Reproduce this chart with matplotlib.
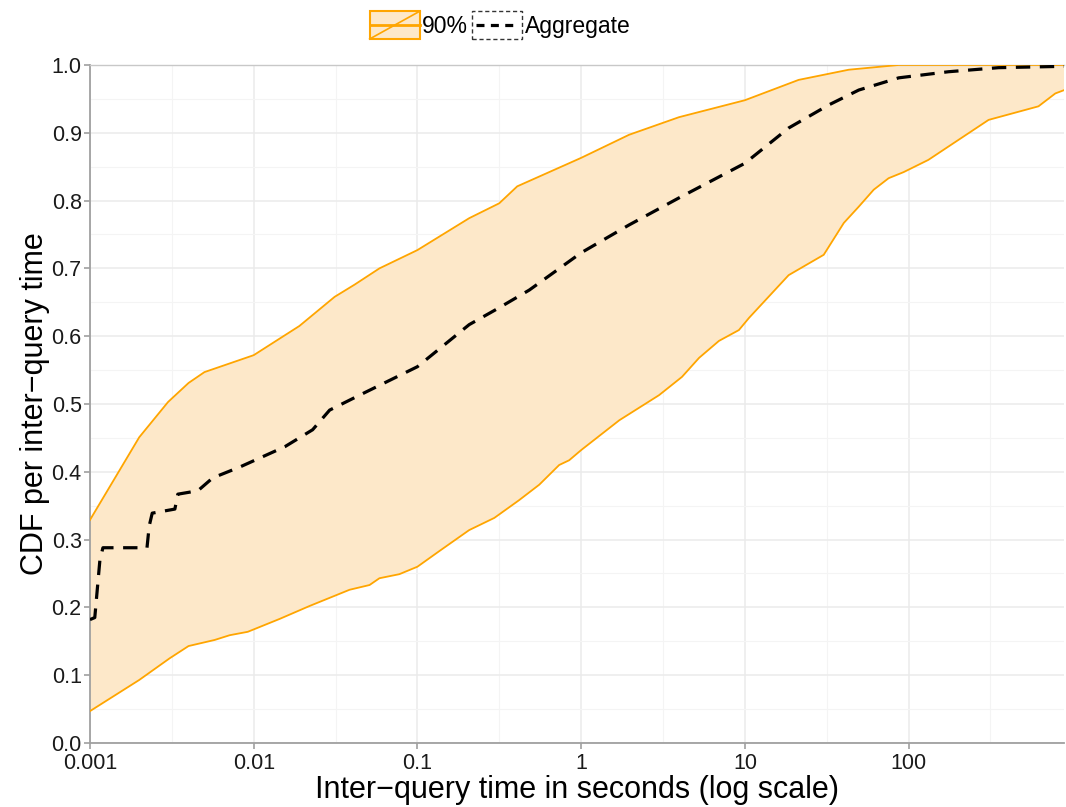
import numpy as np
import matplotlib
matplotlib.use('Agg')
import matplotlib.pyplot as plt
from matplotlib.patches import Rectangle
from matplotlib.lines import Line2D
from matplotlib.legend_handler import HandlerBase
from matplotlib.ticker import FixedLocator, NullFormatter

plt.rcParams['font.family'] = ['Liberation Sans', 'DejaVu Sans']

# Upper edge of the 90% band
upper_x = [0.001, 0.002, 0.003, 0.004, 0.005, 0.01, 0.019, 0.0312, 0.0413, 0.0586,
           0.1, 0.207, 0.316, 0.407, 1.0, 1.96, 3.96, 10.0, 21.3, 43.1, 87.0, 893.0]
upper_y = [0.329, 0.451, 0.503, 0.531, 0.547, 0.572, 0.615, 0.658, 0.676, 0.700,
           0.727, 0.774, 0.796, 0.821, 0.863, 0.897, 0.923, 0.948, 0.978, 0.993, 1.0, 1.0]

# Lower edge of the 90% band
lower_x = [0.001, 0.002, 0.00307, 0.004, 0.00578, 0.00714, 0.0092, 0.0144, 0.0219,
           0.0385, 0.051, 0.0586, 0.0776, 0.1, 0.136, 0.207, 0.295, 0.417, 0.555,
           0.734, 0.845, 1.0, 1.71, 2.99, 4.13, 5.25, 6.94, 9.19, 10.6, 18.5, 30.3,
           40.2, 49.6, 61.2, 75.5, 93.3, 132.0, 308.0, 621.0, 787.0, 893.0]
lower_y = [0.047, 0.093, 0.125, 0.143, 0.152, 0.159, 0.164, 0.183, 0.202,
           0.226, 0.233, 0.243, 0.249, 0.260, 0.283, 0.314, 0.332, 0.358, 0.381,
           0.410, 0.417, 0.432, 0.476, 0.513, 0.540, 0.568, 0.593, 0.609, 0.627,
           0.690, 0.720, 0.767, 0.791, 0.816, 0.833, 0.842, 0.860, 0.919, 0.939,
           0.958, 0.963]

# Aggregate CDF
agg_x = [0.001, 0.00107, 0.00115, 0.0012, 0.00223, 0.0023, 0.0024, 0.0033, 0.00344,
         0.00456, 0.00562, 0.00822, 0.0155, 0.0229, 0.0291, 0.0443, 0.1, 0.207,
         0.316, 0.482, 1.0, 1.96, 3.96, 10.0, 18.5, 32.5, 49.6, 87.0, 175.0, 354.0, 893.0]
agg_y = [0.182, 0.185, 0.270, 0.288, 0.288, 0.320, 0.339, 0.345, 0.367,
         0.372, 0.391, 0.407, 0.437, 0.462, 0.491, 0.513, 0.555, 0.617,
         0.642, 0.668, 0.723, 0.764, 0.804, 0.855, 0.907, 0.941, 0.963, 0.981,
         0.990, 0.996, 0.998]

x_ticks = [0.001, 0.01, 0.1, 1, 10, 100]
x_tick_labels = ['0.001', '0.01', '0.1', '1', '10', '100']
y_ticks = np.round(np.arange(0, 1.01, 0.1), 1)

band_line = '#FFA500'
band_fill = '#FDE8C9'
grid_col = '#EBEBEB'
axis_col = '#A0A0A0'
agg_dash = (0, (4.5, 3))


class BandKey(HandlerBase):
    # ggplot-like key: filled box, outline, horizontal + diagonal line
    def create_artists(self, legend, orig, xd, yd, w, h, fontsize, trans):
        box = Rectangle((-xd, -yd), w, h, facecolor=band_fill, edgecolor=band_line,
                        lw=1.5, transform=trans)
        hl = Line2D([-xd, -xd + w], [-yd + h / 2] * 2, color=band_line, lw=2, transform=trans)
        dl = Line2D([-xd, -xd + w], [-yd, -yd + h], color=band_line, lw=1.2, transform=trans)
        return [box, hl, dl]


class AggKey(HandlerBase):
    def create_artists(self, legend, orig, xd, yd, w, h, fontsize, trans):
        box = Rectangle((-xd, -yd), w, h, facecolor='white', edgecolor='#333333',
                        lw=1.0, linestyle=(0, (3, 2)), transform=trans)
        ln = Line2D([-xd + 3, -xd + w - 3], [-yd + h / 2] * 2, color='black', lw=2.3,
                    linestyle=(0, (2.5, 2)), transform=trans)
        return [box, ln]


fig = plt.figure(figsize=(10.66, 8.07), dpi=100)
ax = fig.add_axes([0.0844, 0.0793, 0.914, 0.8402])

# band: polygon from both edges
poly_x = list(upper_x) + list(lower_x[::-1])
poly_y = list(upper_y) + list(lower_y[::-1])
ax.fill(poly_x, poly_y, color=band_fill, zorder=2, linewidth=0)
ax.plot(upper_x, upper_y, color=band_line, lw=1.3, zorder=3)
ax.plot(lower_x, lower_y, color=band_line, lw=1.3, zorder=3)
ax.plot(agg_x, agg_y, color='black', lw=2.3, linestyle=agg_dash, zorder=4)

ax.set_xscale('log')
ax.set_xlim(0.001, 893)
ax.set_ylim(0, 1)

ax.xaxis.set_major_locator(FixedLocator(x_ticks))
ax.set_xticklabels(x_tick_labels)
ax.xaxis.set_minor_locator(FixedLocator([10 ** (k + 0.5) for k in range(-3, 3)]))
ax.xaxis.set_minor_formatter(NullFormatter())
ax.set_yticks(y_ticks)
ax.set_yticklabels([f'{v:.1f}' for v in y_ticks])
ax.set_yticks(np.arange(0.05, 1.0, 0.1), minor=True)

ax.grid(True, which='major', color=grid_col, lw=1.1, zorder=0)
ax.grid(True, which='minor', color='#F4F4F4', lw=0.8, zorder=0)
ax.set_axisbelow(True)

ax.tick_params(which='major', direction='out', length=4, width=1.2, color=axis_col,
               labelsize=15.5, labelcolor='#1A1A1A')
ax.tick_params(axis='x', which='major', pad=3)
ax.tick_params(axis='y', which='major', pad=2)
ax.tick_params(which='minor', length=0)

ax.spines['right'].set_visible(False)
ax.spines['top'].set_color('#C8C8C8')
ax.spines['top'].set_linewidth(1.0)
for side in ['left', 'bottom']:
    ax.spines[side].set_color(axis_col)
    ax.spines[side].set_linewidth(1.3)

ax.set_xlabel('Inter\u2212query time in seconds (log scale)', fontsize=22, labelpad=1)
ax.set_ylabel('CDF per inter\u2212query time', fontsize=22, labelpad=1)

fig.legend(['band', 'agg'], ['90%', 'Aggregate'], loc='center',
           handler_map={'band': BandKey(), 'agg': AggKey()},
           bbox_to_anchor=(0.469, 0.969), ncol=2, frameon=False, fontsize=16.5,
           handlelength=2.2, handleheight=1.5, handletextpad=0.1, columnspacing=0.15,
           borderpad=0.1)

fig.savefig('out.png', dpi=100)
